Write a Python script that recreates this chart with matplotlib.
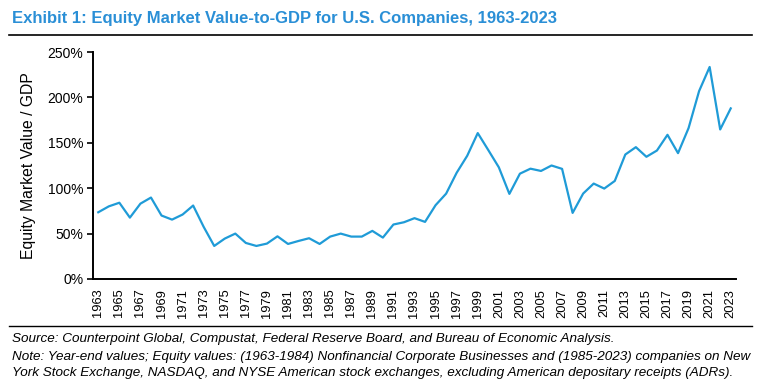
import matplotlib.pyplot as plt
import numpy as np

plt.rcParams['font.family'] = ['Liberation Sans', 'DejaVu Sans']

years = np.arange(1963, 2024)
ratio = [73.5, 80, 84, 67.6, 83, 89.7, 69.9, 65.4, 71, 80.9,
         57.4, 36.4, 44.5, 50, 39.7, 36.4, 39, 47, 38.6, 41.9,
         44.9, 38.6, 46.7, 50, 46.7, 46.7, 53, 45.6, 60, 62.5,
         67, 62.9, 81.3, 94, 117, 135.7, 160.7, 142, 123, 93.75,
         116, 121.5, 119, 125, 121.3, 72.8, 94.1, 105.1, 99.6, 108,
         137.1, 145.2, 134.6, 141.5, 158.8, 138.6, 166.2, 207, 233.5, 164.7,
         187.9]
yticks = [0, 50, 100, 150, 200, 250]
xticks = years[::2]

title = 'Exhibit 1: Equity Market Value-to-GDP for U.S. Companies, 1963-2023'
source = 'Source: Counterpoint Global, Compustat, Federal Reserve Board, and Bureau of Economic Analysis.'
note1 = 'Note: Year-end values; Equity values: (1963-1984) Nonfinancial Corporate Businesses and (1985-2023) companies on New'
note2 = 'York Stock Exchange, NASDAQ, and NYSE American stock exchanges, excluding American depositary receipts (ADRs).'

fig = plt.figure(figsize=(7.58, 3.89), dpi=100)
ax = fig.add_axes([93/758, 1-279/389, 643/758, 227/389])

ax.plot(years, ratio, color='#1f9bd7', lw=1.6)

ax.set_xlim(1962.5, 2023.5)
ax.set_ylim(0, 250)
ax.set_yticks(yticks)
ax.set_yticklabels([f'{v}%' for v in yticks], fontsize=10)
ax.set_xticks(xticks)
ax.set_xticklabels([str(y) for y in xticks], rotation=90, fontsize=9.3)
ax.tick_params(axis='x', length=0, pad=7)
ax.tick_params(axis='y', length=4, width=1.2, direction='out', pad=3)
ax.set_ylabel('Equity Market Value / GDP', fontsize=11.3, labelpad=8)
for s in ['top', 'right']:
    ax.spines[s].set_visible(False)
for s in ['left', 'bottom']:
    ax.spines[s].set_linewidth(1.4)

fig.text(12/758, 1-18/389, title, fontsize=12, fontweight='bold',
         color='#2a8fd6', va='center', ha='left')
fig.add_artist(plt.Line2D([9/758, 752/758], [1-35/389, 1-35/389], color='black', lw=1.2))
fig.add_artist(plt.Line2D([9/758, 752/758], [1-326/389, 1-326/389], color='black', lw=1.0))

fig.text(12/758, 1-339/389, source, fontsize=9.7, style='italic', va='center')
fig.text(12/758, 1-357/389, note1, fontsize=9.7, style='italic', va='center')
fig.text(12/758, 1-373/389, note2, fontsize=9.7, style='italic', va='center')

fig.savefig('out.png', dpi=100)
